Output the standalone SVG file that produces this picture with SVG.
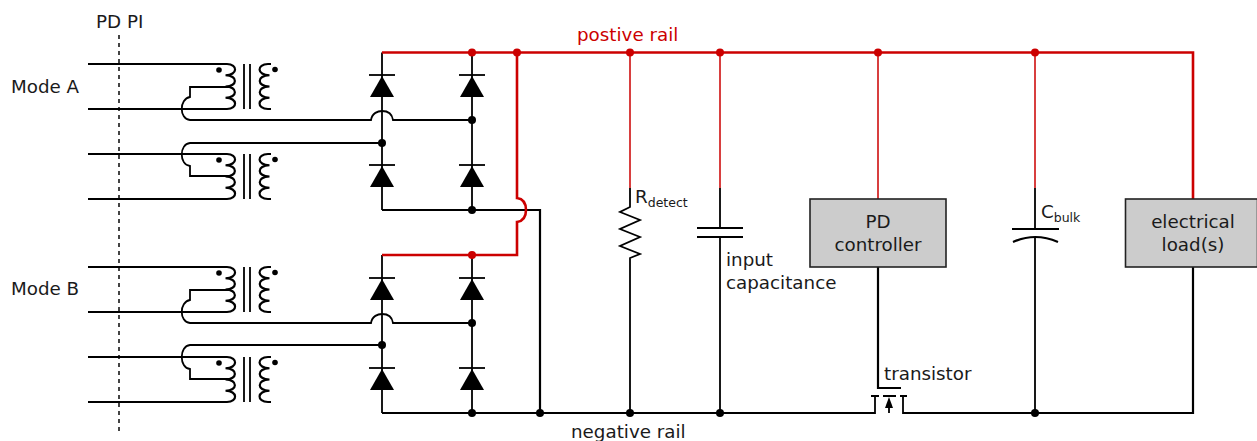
<svg xmlns="http://www.w3.org/2000/svg" width="1257" height="441" viewBox="0 0 1257 441">
<style>
text{font-family:"DejaVu Sans",Verdana,sans-serif;font-size:18.3px;fill:#1a1a1a}
.sub{font-size:12.500px}
.w,.t,.r,.rt,.c{fill:none;stroke-linejoin:miter}
.w{stroke:#000;stroke-width:2.2}
.t{stroke:#000;stroke-width:1.8}
.c{stroke:#000;stroke-width:2.2}
.r{stroke:#c00;stroke-width:2.6}
.rt{stroke:#c00;stroke-width:1.5}
.box{fill:#ccc;stroke:#222;stroke-width:1.6}
.mid{text-anchor:middle}
.dot{fill:#000}.rd{fill:#c00}
</style>
<defs>
<g id="xf">
<path class="t" d="M88 0H225M88 45H225"/>
<path class="c" d="M223 0H227C238 0 238 11.250 225.500 11.250C238 11.250 238 22.500 225.500 22.500C238 22.500 238 33.750 225.500 33.750C238 33.750 238 45 227 45H223"/>
<path class="t" d="M244 0V45M250 0V45"/>
<path class="c" d="M271 0H268C256.500 0 256.500 11.250 269.500 11.250C256.500 11.250 256.500 22.500 269.500 22.500C256.500 22.500 256.500 33.750 269.500 33.750C256.500 33.750 256.500 45 268 45H271"/>
<circle class="dot" cx="219" cy="6" r="2.800"/><circle class="dot" cx="275" cy="5.500" r="2.800"/>
</g>
<g id="d"><path class="t" d="M369 0H395"/><path class="dot" d="M382 1L394 22H370Z"/></g>
</defs>
<g id="connectors">
<path d="M119 35V432" fill="none" stroke="#444" stroke-width="2" stroke-dasharray="4 4"/>
<path class="t" d="M231 87H190V97C179 99 179 119 190 120H371C372 113 378 111 382 111C387 111 392 113 393 120H472"/>
<path class="t" d="M382 143H190C179 144 179 165 190 166V176H231"/>
<path class="t" d="M231 290H190V300C179 302 179 322 190 323H371C372 316 378 314 382 314C387 314 392 316 393 323H472"/>
<path class="t" d="M382 345H190C179 346 179 368 190 369V379H231"/>
<path class="t" d="M382 52.500V210M472 52.500V210M382 255V413M472 255V413"/>
<path class="w" d="M382 210H540V413M382 413H875"/>
<path class="t" d="M850 413H875V396M903 396V413H933M889 413V400"/>
<path class="w" d="M871 396H879M883 396H896M900 396H907"/>
<path class="dot" d="M889 397L893 408H885Z"/>
<path class="w" d="M933 413H1193V267M878 267V388H901"/>
<path class="t" d="M630 188V207L620 212L640 220L620 229L640 237L620 246L640 254L630 258V413"/>
<path class="t" d="M720 188V228M720 237V413M1035 188V229M1035 238V413"/>
<path class="t" d="M697 228H743M697 237H743"/>
<path class="w" d="M1012 229H1059M1013 242Q1035 232 1058 242"/>
<path class="r" d="M382 52.500H1193V199M517 52.500V198C524 199 526 205 526 210C526 216 524 221 517 222V255H382"/>
<path class="rt" d="M630 52.500V188M720 52.500V188M878 52.500V199M1035 52.500V188"/>
<g class="rd"><circle cx="472" cy="52.500" r="4"/><circle cx="517" cy="52.500" r="4"/><circle cx="630" cy="52.500" r="4"/><circle cx="720" cy="52.500" r="4"/><circle cx="878" cy="52.500" r="4"/><circle cx="1035" cy="52.500" r="4"/><circle cx="472" cy="255" r="4"/></g>
<g class="dot"><circle cx="472" cy="120" r="4"/><circle cx="382" cy="143" r="4"/><circle cx="472" cy="210" r="4"/><circle cx="472" cy="323" r="4"/><circle cx="382" cy="345" r="4"/><circle cx="472" cy="413" r="4"/><circle cx="540" cy="413" r="4"/><circle cx="630" cy="413" r="4"/><circle cx="720" cy="413" r="4"/><circle cx="1035" cy="413" r="4"/></g>
</g>
<g id="xf1"><use href="#xf" y="64"/></g>
<g id="xf2"><use href="#xf" y="154"/></g>
<g id="xf3"><use href="#xf" y="267"/></g>
<g id="xf4"><use href="#xf" y="357"/></g>
<g id="diodes">
<use href="#d" y="75"/><use href="#d" y="165"/><use href="#d" x="90" y="75"/><use href="#d" x="90" y="165"/>
<use href="#d" y="278"/><use href="#d" y="368"/><use href="#d" x="90" y="278"/><use href="#d" x="90" y="368"/>
</g>
<g id="pd-controller"><rect class="box" x="810" y="199" width="136" height="68"/><text class="mid" x="878" y="228">PD</text><text class="mid" x="878" y="251">controller</text></g>
<g id="load"><rect class="box" x="1125.500" y="199" width="132" height="68"/><text class="mid" x="1193" y="228">electrical</text><text class="mid" x="1193" y="251">load(s)</text></g>
<g id="labels">
<text x="96" y="28">PD PI</text>
<text x="11" y="93">Mode A</text>
<text x="11" y="295">Mode B</text>
<text x="577" y="41" style="fill:#c00">postive rail</text>
<text x="571" y="438">negative rail</text>
<text x="635" y="203">R<tspan class="sub" dy="4">detect</tspan></text>
<text x="726" y="266">input</text>
<text x="726" y="289">capacitance</text>
<text x="1041" y="218">C<tspan class="sub" dy="4">bulk</tspan></text>
<text x="884" y="380">transistor</text>
</g>
</svg>
